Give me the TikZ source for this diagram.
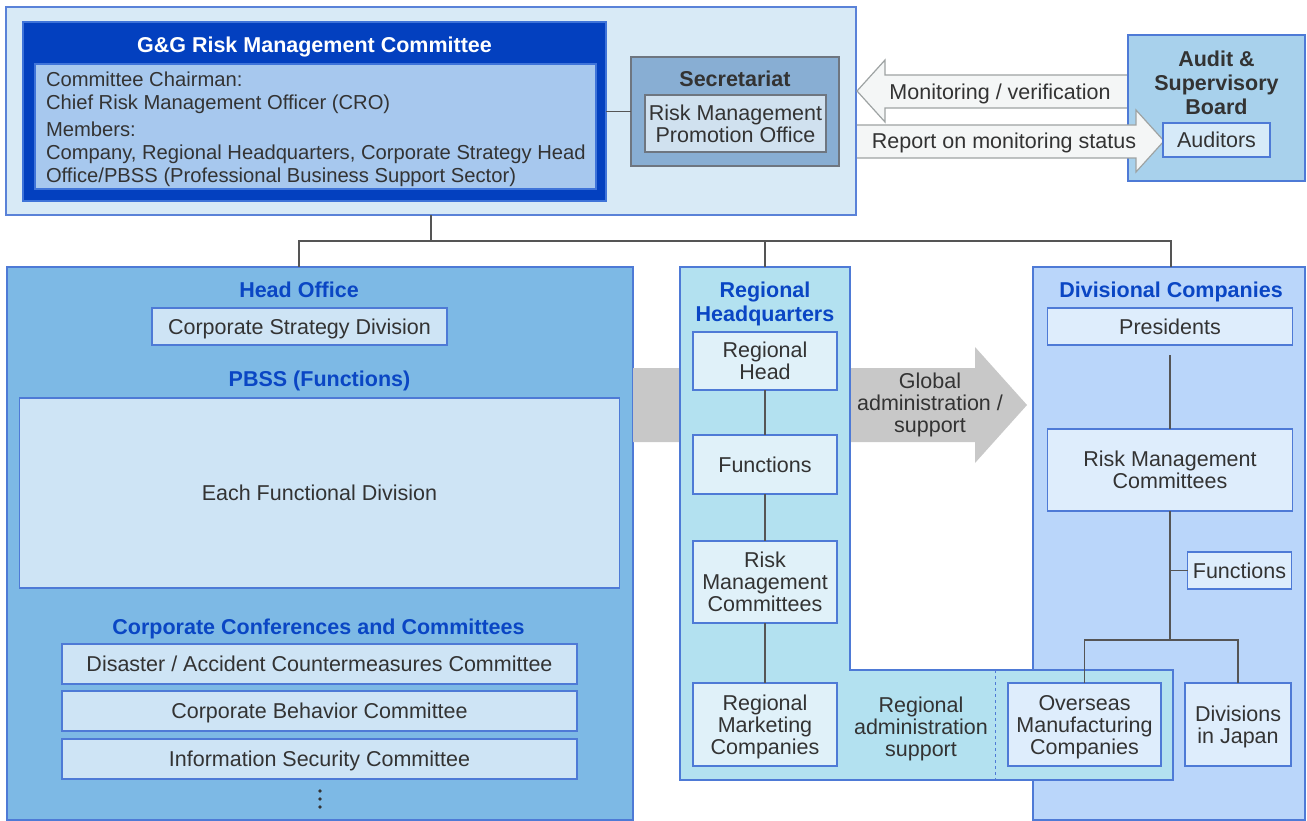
\documentclass[tikz,border=0pt]{standalone}
\usepackage{fontspec}
\setmainfont{Liberation Sans}
\usetikzlibrary{calc}
\definecolor{txt}{HTML}{333333}
\definecolor{ttl}{HTML}{0A46C4}
\definecolor{bord}{HTML}{4E7AD6}
\definecolor{topbord}{HTML}{5A82D8}
\definecolor{lin}{HTML}{555555}
\definecolor{toppanel}{HTML}{D8EAF6}
\definecolor{ggblue}{HTML}{0340BF}
\definecolor{ggbord}{HTML}{3F74D9}
\definecolor{gginner}{HTML}{A7C8EE}
\definecolor{secfill}{HTML}{88AED3}
\definecolor{secinner}{HTML}{D0E1EF}
\definecolor{secbord}{HTML}{6E7680}
\definecolor{auditfill}{HTML}{A8D1EC}
\definecolor{auditinner}{HTML}{D6EAF8}
\definecolor{hofill}{HTML}{7DB9E5}
\definecolor{hobox}{HTML}{CEE4F5}
\definecolor{garrow}{HTML}{C8C8C8}
\definecolor{rfill}{HTML}{B3E1F0}
\definecolor{rbox}{HTML}{E0F1F9}
\definecolor{dfill}{HTML}{BAD6FA}
\definecolor{dbox}{HTML}{DEEDFC}
\definecolor{warrowfill}{HTML}{F4F6F6}
\definecolor{warrowbord}{HTML}{9EA3A3}
\begin{document}
\begin{tikzpicture}[x=1pt,y=-1pt,
  every node/.style={inner sep=0pt, outer sep=0pt, text=txt, align=center,
    text depth=0pt, font=\fontsize{21.5}{22}\selectfont},
  bx/.style={draw=bord, line width=1.2pt},
  ttlf/.style={font=\fontsize{21.5}{24}\selectfont\bfseries, text=ttl},
  boldf/.style={font=\fontsize{21.5}{24}\selectfont\bfseries},
  conn/.style={draw=lin, line width=1.3pt},
  blockarrow/.style={fill=warrowfill, draw=warrowbord, line width=1.2pt, line join=miter}
]
\path[fill=white] (0,0) rectangle (1307,821);
\useasboundingbox (0,0) rectangle (1307,821);

% ---------- top panel ----------
\node[fill=toppanel, draw=topbord, line width=1.2pt, minimum width=850pt, minimum height=208pt] (top) at (431,111) {};
\node[fill=ggblue, draw=ggbord, line width=1.2pt, minimum width=583pt, minimum height=179pt] (gg) at (314.5,111.5) {};
\node[boldf, text=white] (ggtitle) at (314.5,45) {G\&G Risk Management Committee};
\node[fill=gginner, draw=ggbord, line width=1.2pt, minimum width=561pt, minimum height=125pt] (ggin) at (315.5,126.5) {};
\node[anchor=west, align=left, font=\fontsize{20.2}{23}\selectfont] (ggtext) at (46,127)
  {Committee Chairman:\\Chief Risk Management Officer (CRO)\\[4pt]Members:\\Company, Regional Headquarters, Corporate Strategy Head\\Office/PBSS (Professional Business Support Sector)};

\node[fill=secfill, draw=secbord, line width=1.2pt, minimum width=208pt, minimum height=109pt] (sec) at (735,111.5) {};
\node[boldf] (sectitle) at (735,79) {Secretariat};
\node[fill=secinner, draw=secbord, line width=1.2pt, minimum width=181pt, minimum height=57pt] (rmpo) at (735.5,123.5) {Risk Management\\Promotion Office};
\draw[conn] (gg.east) -- (sec.west);

% monitoring arrow
\path[blockarrow] (1128,75) -- (885,75) -- (885,60) -- (857,91) -- (885,122) -- (885,108) -- (1128,108);
\node (monlbl) at (1000,92) {Monitoring / verification};

% audit
\node[fill=auditfill, bx, minimum width=177pt, minimum height=146pt] (audit) at (1216.5,108) {};
\node[boldf] (audittitle) at (1216.5,83) {Audit \&\\Supervisory\\Board};
\path[blockarrow] (857,125) -- (1136,125) -- (1136,110) -- (1164,141) -- (1136,172) -- (1136,158) -- (857,158);
\node (replbl) at (1004,141) {Report on monitoring status};
\node[fill=auditinner, bx, minimum width=107pt, minimum height=34pt] (auditors) at (1216.5,140) {Auditors};

% ---------- head office ----------
\node[fill=hofill, bx, minimum width=626pt, minimum height=553pt] (ho) at (320,543.5) {};
\node[ttlf] (hotitle) at (299,290) {Head Office};
\node[fill=hobox, bx, minimum width=295pt, minimum height=37pt] (csd) at (299.5,326.5) {Corporate Strategy Division};
\node[ttlf] (pbss) at (319.5,379) {PBSS (Functions)};
\node[fill=hobox, bx, minimum width=600pt, minimum height=190pt] (efd) at (319.5,493) {Each Functional Division};
\node[ttlf] (cct) at (318.5,627) {Corporate Conferences and Committees};
\node[fill=hobox, bx, minimum width=515pt, minimum height=40pt] (dac) at (319.5,664) {Disaster / Accident Countermeasures Committee};
\node[fill=hobox, bx, minimum width=515pt, minimum height=40pt] (cbc) at (319.5,711) {Corporate Behavior Committee};
\node[fill=hobox, bx, minimum width=515pt, minimum height=40pt] (isc) at (319.5,759) {Information Security Committee};
\fill[txt] (320,791) circle (1.9pt) (320,799) circle (1.9pt) (320,807) circle (1.9pt);

% ---------- gray arrow ----------
\fill[garrow] (633,368) -- (975,368) -- (975,347) -- (1027,405) -- (975,463) -- (975,442) -- (633,442) -- cycle;
\node[text=txt] (glbl) at (930,403) {Global\\administration /\\support};

% ---------- divisional companies ----------
\node[fill=dfill, bx, minimum width=272pt, minimum height=553pt] (dc) at (1169,543.5) {};

% ---------- regional HQ (L shape) ----------
\path[fill=rfill, draw=bord, line width=1.2pt] (680,267) -- (850,267) -- (850,670) -- (1173,670) -- (1173,780) -- (680,780) -- cycle;
\draw[bord, line width=1pt, dash pattern=on 3pt off 3pt] (995,670) -- (995,780);
\coordinate (rtop) at (765,267);
\node[ttlf] (rtitle) at (765,302) {Regional\\Headquarters};
\node[fill=rbox, bx, minimum width=144pt, minimum height=58pt] (rhead) at (765,361) {Regional\\Head};
\node[fill=rbox, bx, minimum width=144pt, minimum height=59pt] (rfunc) at (765,464.5) {Functions};
\node[fill=rbox, bx, minimum width=144pt, minimum height=82pt] (rrmc) at (765,582) {Risk\\Management\\Committees};
\node[fill=rbox, bx, minimum width=144pt, minimum height=83pt] (rmktg) at (765,724.5) {Regional\\Marketing\\Companies};
\node (radmin) at (921,727) {Regional\\administration\\support};

\node[ttlf] (dctitle) at (1171,290) {Divisional Companies};
\node[fill=dbox, bx, minimum width=245pt, minimum height=37pt] (pres) at (1170,326.5) {Presidents};
\node[fill=dbox, bx, minimum width=245pt, minimum height=82pt] (drmc) at (1170,470) {Risk Management\\Committees};
\node[fill=dbox, bx, minimum width=104pt, minimum height=37pt] (dfunc) at (1239.5,570.5) {Functions};
\node[fill=dbox, bx, minimum width=153pt, minimum height=83pt] (ovs) at (1084.5,724.5) {Overseas\\Manufacturing\\Companies};
\node[fill=dbox, bx, minimum width=106pt, minimum height=83pt] (dij) at (1238,724.5) {Divisions\\in Japan};

% ---------- connectors ----------
\coordinate (bus) at (431,241);
\draw[conn] (top.south) -- (bus);
\draw[conn] (hotitle.north |- ho.north) |- (bus) -| (dctitle.north |- dc.north);
\draw[conn] (rtop) -- (rtop |- bus);
\draw[conn] (rhead) -- (rfunc);
\draw[conn] (rfunc) -- (rrmc);
\draw[conn] (rrmc) -- (rmktg);
\coordinate (junc) at (drmc.south |- 0,640);
\draw[conn, shorten <=10pt] (pres) -- (drmc);
\draw[conn] (drmc.south) -- (junc);
\draw[conn] (ovs.north) |- (junc) -| (dij.north);
\draw[conn] (dfunc.west) -- (dfunc.west -| junc);
\end{tikzpicture}
\end{document}
